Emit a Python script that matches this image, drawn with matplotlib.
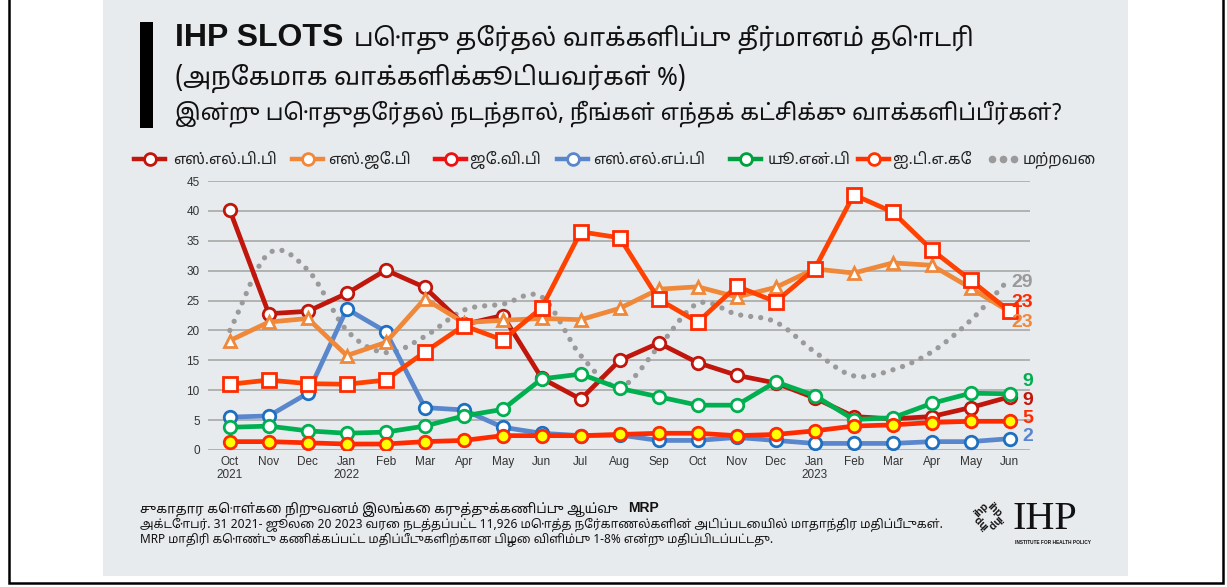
#!/usr/bin/env python3
"""IHP SLOTS voting intention chart (Tamil version)."""

import numpy as np
import matplotlib
matplotlib.use("Agg")
import matplotlib.pyplot as plt
from matplotlib.patches import Rectangle
from matplotlib.lines import Line2D

# month labels Oct 2021 .. Jun 2023
months = ["Oct\n2021", "Nov", "Dec", "Jan\n2022", "Feb", "Mar", "Apr", "May", "Jun",
          "Jul", "Aug", "Sep", "Oct", "Nov", "Dec", "Jan\n2023", "Feb", "Mar", "Apr",
          "May", "Jun"]

slpp = [40.1, 22.8, 23.2, 26.2, 30.1, 27.2, 21.0, 22.5, 12.0, 8.5, 15.0, 17.9, 14.6,
        12.5, 11.2, 8.7, 5.6, 5.2, 5.6, 7.1, 8.9]
sjb = [18.3, 21.4, 22.0, 15.8, 18.0, 25.3, 21.3, 21.7, 22.0, 21.8, 23.7, 26.9, 27.3,
       25.6, 27.2, 30.3, 29.6, 31.3, 30.9, 27.1, 23.1]
jvp = [11.0, 11.7, 11.1, 11.0, 11.7, 16.4, 20.8, 18.4, 23.8, 36.5, 35.5, 25.2, 21.4,
       27.4, 24.8, 30.3, 42.7, 39.8, 33.5, 28.4, 23.2]
slfp = [5.5, 5.7, 9.5, 23.6, 19.8, 7.1, 6.7, 3.8, 2.8, 2.4, 2.5, 1.6, 1.6, 2.1, 1.6,
        1.1, 1.1, 1.1, 1.4, 1.4, 1.9]
unp = [3.8, 4.0, 3.2, 2.8, 3.0, 4.0, 5.7, 6.8, 11.9, 12.7, 10.3, 8.9, 7.5, 7.5, 11.4,
       9.1, 5.1, 5.4, 7.8, 9.5, 9.4]
itak = [1.4, 1.4, 1.2, 1.0, 1.0, 1.4, 1.6, 2.4, 2.4, 2.4, 2.6, 2.8, 2.8, 2.4, 2.6,
        3.2, 4.0, 4.2, 4.6, 4.8, 4.8]
others = [20.0, 32.9, 30.1, 20.0, 16.3, 19.0, 23.4, 24.4, 25.6, 15.8, 10.6, 17.3, 24.5,
          22.7, 21.4, 16.4, 12.4, 13.4, 16.4, 21.7, 28.7]

legend_names = ["எஸ்.எல்.பி.பி", "எஸ்.ஜே.பி", "ஜே.வி.பி", "எஸ்.எல்.எப்.பி",
                "யூ.என்.பி", "ஐ.டி.எ.கே", "மற்றவை"]
end_labels = ["29", "23", "23", "9", "9", "5", "2"]
end_label_y = [28.1, 24.7, 21.4, 11.4, 8.2, 5.2, 2.2]

TAMIL = ["Noto Sans Tamil", "Noto Serif Tamil", "Lohit Tamil", "Latha",
         "Noto Sans", "DejaVu Sans"]
LATIN = ["Liberation Sans", "DejaVu Sans"]
PANEL = "#e8ebee"


def smooth(xs, ys, n=16):
    """catmull-rom curve through the points (like excel smoothed line)"""
    xs = np.asarray(xs, float)
    ys = np.asarray(ys, float)
    px = np.concatenate([[2 * xs[0] - xs[1]], xs, [2 * xs[-1] - xs[-2]]])
    py = np.concatenate([[2 * ys[0] - ys[1]], ys, [2 * ys[-1] - ys[-2]]])
    out_x, out_y = [], []
    t = np.linspace(0, 1, n, endpoint=False)
    for i in range(1, len(px) - 2):
        for p, out in ((px, out_x), (py, out_y)):
            p0, p1, p2, p3 = p[i - 1], p[i], p[i + 1], p[i + 2]
            out.extend(0.5 * (2 * p1 + (-p0 + p2) * t
                              + (2 * p0 - 5 * p1 + 4 * p2 - p3) * t ** 2
                              + (-p0 + 3 * p1 - 3 * p2 + p3) * t ** 3))
    out_x.append(xs[-1])
    out_y.append(ys[-1])
    return np.array(out_x), np.array(out_y)


def main():
    plt.rcParams["font.family"] = LATIN
    fig = plt.figure(figsize=(12.27, 5.87), dpi=100)

    # overlay axes in pixel coords for panel, titles, legend, footer
    ov = fig.add_axes([0, 0, 1, 1], zorder=0)
    ov.set_xlim(0, 1227)
    ov.set_ylim(587, 0)
    ov.axis("off")
    ov.add_patch(Rectangle((103, 0), 1025, 576, color=PANEL, lw=0))
    # outer frame
    ov.plot([8.5, 8.5, 1222.5, 1222.5], [0, 583, 583, 0], color="black", lw=1.8,
            solid_joinstyle="miter")
    # title bar
    ov.add_patch(Rectangle((140, 22), 13, 106, color="black", lw=0))

    ov.text(175, 46, "IHP SLOTS", fontsize=23, fontweight="bold", color="#111111",
            va="baseline")
    ov.text(354, 46, "பொது தேர்தல் வாக்களிப்பு தீர்மானம் தொடரி", fontsize=18,
            family=TAMIL, color="#111111", va="baseline")
    ov.text(175, 85, "(அநேகமாக வாக்களிக்கூடியவர்கள் %)", fontsize=18,
            family=TAMIL, color="#111111", va="baseline")
    ov.text(175, 120, "இன்று பொதுதேர்தல் நடந்தால், நீங்கள் எந்தக் கட்சிக்கு வாக்களிப்பீர்கள்?",
            fontsize=16.4, family=TAMIL, color="#111111", va="baseline")

    # main chart
    ax = fig.add_axes([208 / 1227, 1 - 450 / 587, 822 / 1227, 269 / 587], zorder=1)
    ax.set_facecolor("none")
    x = np.arange(len(months))

    ox, oy = smooth(x, others)
    ax.plot(ox, oy, color="#9a9a9a", lw=3.8, linestyle=(0, (0.01, 1.9)),
            dash_capstyle="round", zorder=2)

    series = [
        (slpp, "#c0160c", "o", "white", "#c0160c", 9, 3),
        (slfp, "#5a86cc", "o", "white", "#1f6fc0", 9, 4),
        (sjb, "#f0883a", "^", "white", "#f0883a", 8, 5),
        (unp, "#00b050", "o", "white", "#00b050", 9, 6),
        (itak, "#ff2a00", "o", "#ffff00", "#ff2a00", 9, 7),
        (jvp, "#ff4200", "s", "white", "#ff2a00", 9.5, 8),
    ]
    for vals, lc, mk, mfc, mec, ms, z in series:
        ax.plot(x, vals, color=lc, lw=3.4, marker=mk, markersize=ms,
                markerfacecolor=mfc, markeredgecolor=mec, markeredgewidth=2, zorder=z)

    ax.set_xlim(-0.56, 20.52)
    ax.set_ylim(0, 45)
    ax.set_yticks(range(0, 46, 5))
    ax.set_xticks(x)
    ax.set_xticklabels(months, fontsize=8.5, color="#333333", linespacing=1.15)
    ax.tick_params(axis="y", labelsize=8.5, labelcolor="#333333", length=0, pad=6)
    ax.tick_params(axis="x", length=0, pad=4)
    ax.grid(axis="y", color="#a8a8a8", lw=1.2)
    ax.set_axisbelow(True)
    for s in ax.spines.values():
        s.set_visible(False)

    # end-of-line labels, right aligned just past the last point
    end_colors = ["#9a9a9a", "#ff2a00", "#f0883a", "#00b050", "#c0160c", "#ff2a00",
                  "#5a86cc"]
    for lab, yv, c in zip(end_labels, end_label_y, end_colors):
        ax.text(20.6, yv, lab, color=c, fontsize=14, fontweight="bold",
                va="center", ha="right", clip_on=False, zorder=10)

    # legend drawn by hand
    leg_y = 159
    leg_x = [(134, 173), (292, 328), (435, 470), (557, 593), (730, 768), (858, 893),
             (988, 1023)]
    leg_style = [("#c0160c", "white", "#c0160c"), ("#f0883a", "white", "#f0883a"),
                 ("#ee1111", "white", "#ee1111"), ("#5a86cc", "white", "#5a86cc"),
                 ("#00a040", "white", "#00a040"), ("#ff3300", "white", "#ff3300")]
    for i, (name, (lx, tx)) in enumerate(zip(legend_names, leg_x)):
        if i < 6:
            lc, mfc, mec = leg_style[i]
            ov.add_line(Line2D([lx, lx + 31], [leg_y, leg_y], color=lc, lw=3.2))
            ov.plot([lx + 15.5], [leg_y], marker="o", markersize=8.5,
                    markerfacecolor=mfc, markeredgecolor=mec, markeredgewidth=2)
        else:
            ov.plot([lx + 4, lx + 15, lx + 26], [leg_y] * 3, linestyle="none",
                    marker="o", markersize=4.5, color="#9a9a9a")
        ov.text(tx, leg_y + 1, name, fontsize=11, family=TAMIL, color="#222222",
                va="center", ha="left")

    # footer
    ov.text(140, 512, "சுகாதார கொள்கை நிறுவனம் இலங்கை கருத்துக்கணிப்பு ஆய்வு",
            fontsize=9.55, family=TAMIL, color="#111111", va="baseline")
    ov.text(628, 512, "MRP", fontsize=10, fontweight="bold", color="#111111",
            va="baseline")
    ov.text(140, 527, "அக்டோபர். 31 2021- ஜூலை 20 2023 வரை நடத்தப்பட்ட 11,926 மொத்த "
            "நேர்காணல்களின் அடிப்படையில் மாதாந்திர மதிப்பீடுகள்.",
            fontsize=8.7, family=TAMIL, color="#111111", va="baseline")
    ov.text(140, 543, "MRP மாதிரி கொண்டு கணிக்கப்பட்ட மதிப்பீடுகளிற்கான பிழை "
            "விளிம்பு 1-8% என்று மதிப்பிடப்பட்டது.",
            fontsize=8.5, family=TAMIL, color="#111111", va="baseline")

    # IHP logo: pinwheel of "ihp" plus wordmark
    for ang in (0, 90, 180, 270):
        r = np.deg2rad(ang + 45)
        cx = 988 + 9 * np.cos(r)
        cy = 516 - 9 * np.sin(r)
        ov.text(cx, cy, "ihp", fontsize=7.5, fontweight="bold", rotation=ang - 45,
                ha="center", va="center", color="#111111")
    ov.text(1012, 529, "IHP", fontsize=29, family=["Liberation Serif", "DejaVu Serif"],
            color="#111111", va="baseline", ha="left")
    ov.text(1015, 542, "INSTITUTE FOR HEALTH POLICY", fontsize=3.4, fontweight="bold",
            color="#111111", va="center", ha="left")

    fig.savefig("out.png", dpi=100, facecolor="white")


if __name__ == "__main__":
    main()
